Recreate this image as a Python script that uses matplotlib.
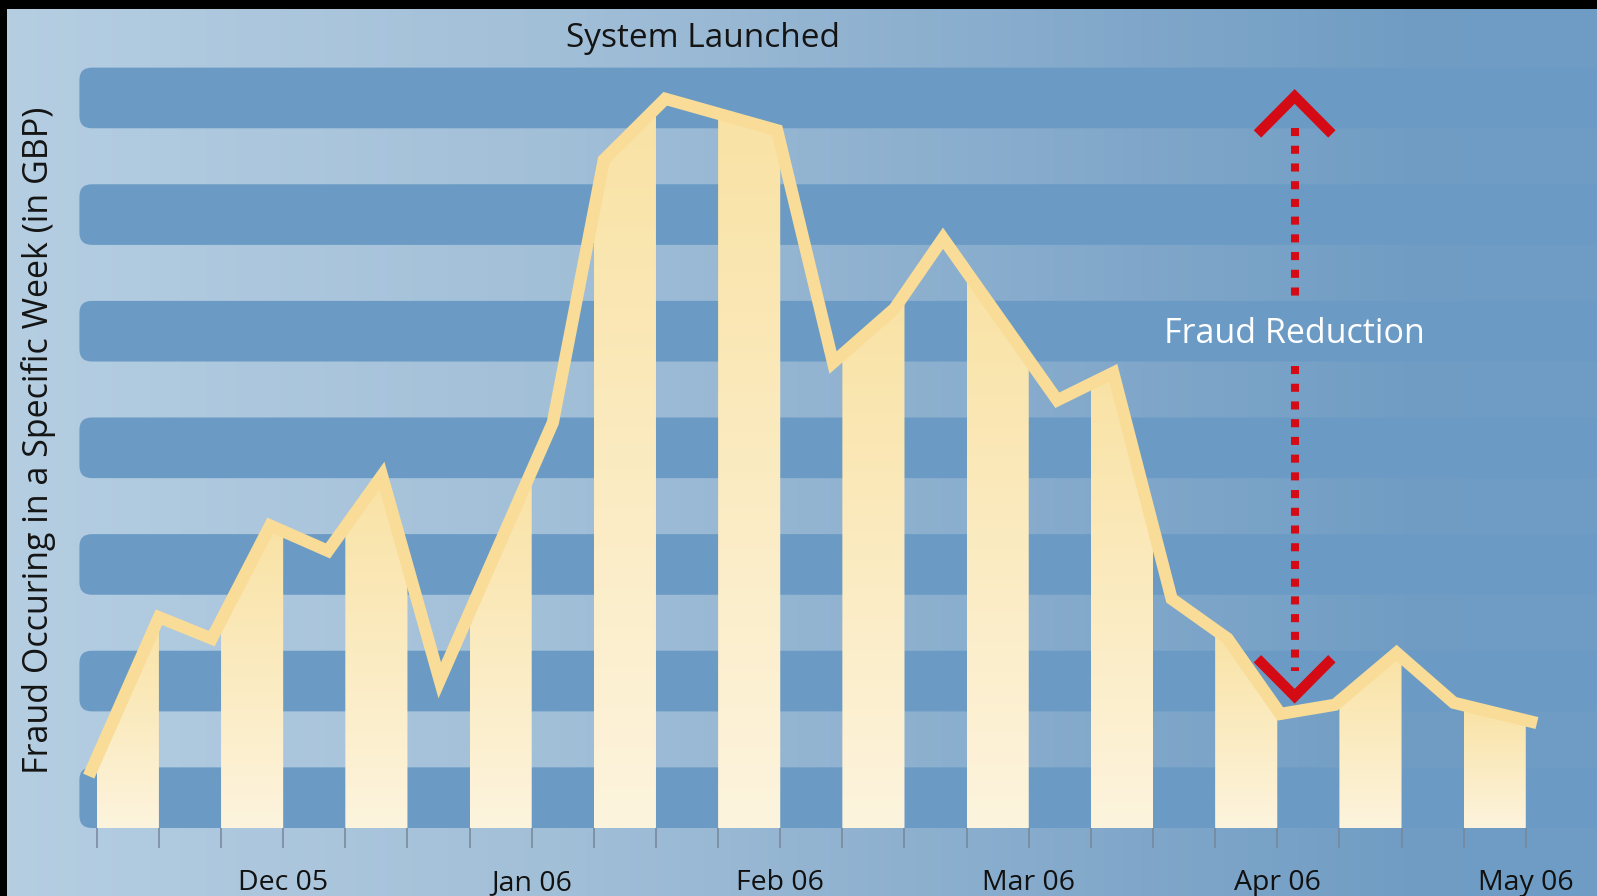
import numpy as np
import matplotlib
matplotlib.use("Agg")
import matplotlib.pyplot as plt
from matplotlib.colors import LinearSegmentedColormap
from matplotlib.patches import FancyBboxPatch, Polygon, Rectangle

plt.rcParams['font.family'] = ['Open Sans', 'DejaVu Sans']

## Data (x in week-tick units, y in grid-band units; the chart shows no y scale)
week_pos = [-0.13, 1.0, 1.85, 2.79, 3.72, 4.59, 5.52, 7.34, 8.16, 9.15, 10.95,
            11.85, 12.84, 13.62, 15.46, 16.36, 17.30, 18.20, 19.05, 19.93,
            20.92, 21.84, 23.18]
fraud_level = [0.445, 1.808, 1.624, 2.594, 2.376, 3.022, 1.266, 3.476, 5.729,
               6.253, 5.983, 3.991, 4.454, 5.057, 3.668, 3.904, 1.965, 1.624,
               0.978, 1.057, 1.502, 1.074, 0.900]
tick_pos = list(range(24))
month_ticks = [3, 7, 11, 15, 19, 23]
month_names = ["Dec 05", "Jan 06", "Feb 06", "Mar 06", "Apr 06", "May 06"]
band_levels = list(range(7))

# annotation
launch_x = 9.75
arrow_x = 19.28
arrow_low = 1.13

##Layout
W, H = 1597, 896
px_x = 62.13      # pixels per week tick
px_y = 116.62     # pixels per band unit
x0_px = 96.8      # pixel of first tick
base_px = 828     # pixel row of the baseline (from top)

fig = plt.figure(figsize=(W / 100, H / 100), dpi=100)

# background gradient
bg = fig.add_axes([0, 0, 1, 1], zorder=0)
bg_cmap = LinearSegmentedColormap.from_list(
    'bg', [(0, '#b5cee2'), (0.35, '#a2bfd8'), (0.65, '#86abcc'), (0.88, '#719dc4'), (1, '#6e9cc4')])
bg.imshow(np.linspace(0, 1, 512).reshape(1, -1), cmap=bg_cmap, aspect='auto', extent=[0, 1, 0, 1])
bg.axis('off')

ax = fig.add_axes([0, (H - base_px) / H, 1, base_px / H], zorder=1)
ax.patch.set_visible(False)
xmin = -x0_px / px_x
xmax = (W - x0_px) / px_x
ymax = base_px / px_y

# bands
for k in band_levels:
    band = FancyBboxPatch((-0.28, k), xmax + 1, 0.52,
                          boxstyle='round,pad=0,rounding_size=0.2',
                          mutation_aspect=px_x / px_y,
                          facecolor='#6b9bc4', edgecolor='none', zorder=1)
    ax.add_patch(band)

# filled strips under the line, every other week
fill_cmap = LinearSegmentedColormap.from_list('fill', ['#fdf4de', '#f9e2a4'])
grad = np.linspace(0, 1, 256).reshape(-1, 1)
for j in range(0, len(tick_pos) - 1, 2):
    a, b = tick_pos[j], tick_pos[j + 1]
    xs = np.linspace(a, b, 60)
    ys = np.interp(xs, week_pos, fraud_level)
    verts = [(a, 0)] + list(zip(xs, ys)) + [(b, 0)]
    clip = Polygon(verts, closed=True, facecolor='none', edgecolor='none')
    ax.add_patch(clip)
    im = ax.imshow(grad, cmap=fill_cmap, origin='lower', aspect='auto',
                   extent=[a, b, 0, ys.max()], zorder=2)
    im.set_clip_path(clip)

# line
ax.plot(week_pos, fraud_level, color='#f8dc97', lw=8.8,
        solid_joinstyle='miter', solid_capstyle='butt', zorder=4)

# Fraud reduction arrow
peak = max(fraud_level)
red = '#d40a14'
ax.plot([arrow_x, arrow_x], [peak - 0.25, 4.52], color=red, lw=5.8,
        linestyle=(0, (1, 1.2)), zorder=5)
ax.plot([arrow_x, arrow_x], [3.96, arrow_low + 0.22], color=red, lw=5.8,
        linestyle=(0, (1, 1.2)), zorder=5)
ax.plot([arrow_x - 0.54, arrow_x, arrow_x + 0.54], [peak - 0.27, peak + 0.02, peak - 0.27],
        color=red, lw=7.5, solid_joinstyle='miter', zorder=5)
ax.plot([arrow_x - 0.54, arrow_x, arrow_x + 0.54], [arrow_low + 0.29, arrow_low, arrow_low + 0.29],
        color=red, lw=7.5, solid_joinstyle='miter', zorder=5)
ax.text(arrow_x, 4.236, 'Fraud Reduction', color='white', fontsize=24.5,
        ha='center', va='center', zorder=6)

ax.text(launch_x, 6.77, 'System Launched', color='#141414', fontsize=24,
        ha='center', va='center', zorder=6)

ax.set_xlim(xmin, xmax)
ax.set_ylim(0, ymax)
ax.set_xticks(tick_pos)
labels = [''] * len(tick_pos)
for t, name in zip(month_ticks, month_names):
    labels[t] = name
ax.set_xticklabels(labels)
ax.tick_params(axis='x', length=14.7, width=1.1, color='#76879a', pad=15,
               labelsize=20.5, labelcolor='#111111')
ax.set_yticks([])
for s in ax.spines.values():
    s.set_visible(False)

fig.text(38 / 1568, 1 - 432 / 880, 'Fraud Occuring in a Specific Week (in GBP)',
         rotation=90, ha='center', va='center', fontsize=24.5, color='#141414')

# black frame edges
fig.patches.append(Rectangle((0, 1 - 9 / H), 1, 9 / H, transform=fig.transFigure,
                             facecolor='black', edgecolor='none', zorder=10))
fig.patches.append(Rectangle((0, 0), 7 / W, 1, transform=fig.transFigure,
                             facecolor='black', edgecolor='none', zorder=10))

fig.savefig('out.png', dpi=100)
